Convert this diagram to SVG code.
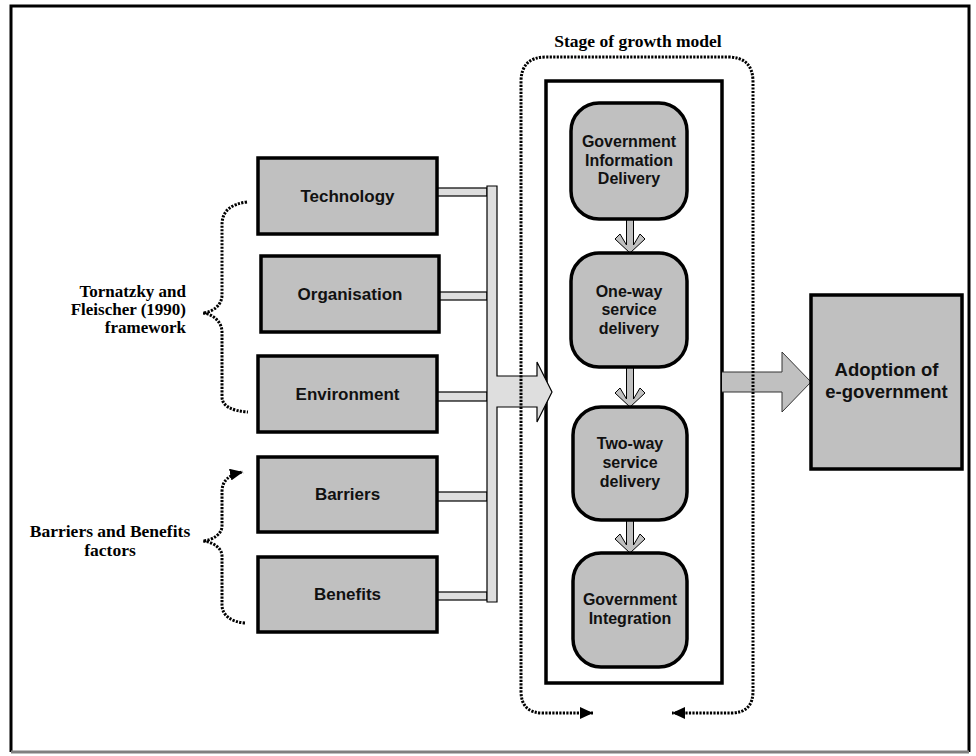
<svg xmlns="http://www.w3.org/2000/svg" width="976" height="756" viewBox="0 0 976 756">
<defs>
<style>
.box{fill:#c0c0c0;stroke:#000;stroke-width:3.5}
.sbox{fill:#c0c0c0;stroke:#000;stroke-width:3.5}
.lbl{font-family:"Liberation Sans",Arial,sans-serif;font-weight:bold;font-size:17px;fill:#111;text-anchor:middle}
.slbl{font-family:"Liberation Sans",Arial,sans-serif;font-weight:bold;font-size:16px;fill:#111;text-anchor:middle}
.ser{font-family:"Liberation Serif","Times New Roman",serif;font-weight:bold;font-size:17px;fill:#000}
.dot{fill:none;stroke:#000;stroke-width:3;stroke-dasharray:2.2 1.3}
.bar{fill:#dedede;stroke:#000;stroke-width:1.2}
.sarr{fill:#c0c0c0;stroke:#000;stroke-width:1}
</style>
<marker id="ah" markerUnits="userSpaceOnUse" markerWidth="13" markerHeight="12" refX="13" refY="6" orient="auto-start-reverse" viewBox="0 0 13 12">
<path d="M0,0 L13,6 L0,12 Z" fill="#000"/>
</marker>
</defs>

<g id="frame">
<path d="M11,752 L11,6 L969,6 L969,752" fill="none" stroke="#000" stroke-width="3"/>
<line x1="11" y1="752" x2="969" y2="752" stroke="#808080" stroke-width="3"/>
</g>

<g id="stage-container">
<rect x="546" y="81" width="176" height="602" fill="none" stroke="#000" stroke-width="3.5"/>
</g>

<g id="connectors">
<rect class="bar" x="437" y="188" width="50" height="8"/>
<rect class="bar" x="436" y="292" width="51" height="8"/>
<rect class="bar" x="437" y="392" width="50" height="9"/>
<rect class="bar" x="437" y="492" width="50" height="9"/>
<rect class="bar" x="437" y="592" width="50" height="8"/>
<path class="bar" d="M487,186 L497,186 L497,376 L537,376 L537,362 L552,392 L537,422 L537,407 L497,407 L497,602 L487,602 Z"/>
<path class="sarr" d="M626.5,219 L633.5,219 L633.5,245 L640,234 L645,239 L630,253 L615,239 L620,234 L626.5,245 Z"/>
<path class="sarr" d="M626.5,367 L633.5,367 L633.5,399 L640,388 L645,393 L630,407 L615,393 L620,388 L626.5,399 Z"/>
<path class="sarr" d="M626.5,520 L633.5,520 L633.5,545 L640,534 L645,539 L630,553 L615,539 L620,534 L626.5,545 Z"/>
<path d="M722,372 L782,372 L782,352 L811,382 L782,412 L782,392 L722,392" fill="#c0c0c0" stroke="#333" stroke-width="1"/>
<path class="dot" d="M247,202 C232,204 222,210 222,225 L222,295 C222,305 213,312 203,313 C213,314 222,322 222,332 L222,397 C222,406 232,411 248,412"/>
<path class="dot" d="M245,623 C231,622 222,615 222,605 L222,556 C222,548 213,542 203,541 C213,540 222,534 222,526 L222,492 C222,481 228,475 243,472" marker-end="url(#ah)"/>
<path class="dot" d="M593,713 L543,713 Q521,713 521,691 L521,82 Q521,57 546,57 L728,57 Q753,57 753,82 L753,691 Q753,713 731,713 L672,713" marker-start="url(#ah)" marker-end="url(#ah)"/>
</g>

<g id="technology"><rect class="box" x="258" y="158" width="179" height="76"/><text class="lbl" x="347.5" y="202">Technology</text></g>
<g id="organisation"><rect class="box" x="261" y="256" width="178" height="76"/><text class="lbl" x="350" y="300">Organisation</text></g>
<g id="environment"><rect class="box" x="258" y="356" width="179" height="76"/><text class="lbl" x="347.5" y="400">Environment</text></g>
<g id="barriers"><rect class="box" x="258" y="457" width="179" height="75"/><text class="lbl" x="347.5" y="500">Barriers</text></g>
<g id="benefits"><rect class="box" x="258" y="557" width="179" height="75"/><text class="lbl" x="347.5" y="600">Benefits</text></g>

<g id="stage1"><rect class="sbox" x="571" y="103" width="116" height="116" rx="28"/>
<text class="slbl" x="629" y="147">Government</text><text class="slbl" x="629" y="166">Information</text><text class="slbl" x="629" y="184">Delivery</text></g>
<g id="stage2"><rect class="sbox" x="571" y="253" width="116" height="114" rx="28"/>
<text class="slbl" x="629" y="297">One-way</text><text class="slbl" x="629" y="315">service</text><text class="slbl" x="629" y="334">delivery</text></g>
<g id="stage3"><rect class="sbox" x="573" y="407" width="114" height="113" rx="28"/>
<text class="slbl" x="630" y="449">Two-way</text><text class="slbl" x="630" y="468">service</text><text class="slbl" x="630" y="487">delivery</text></g>
<g id="stage4"><rect class="sbox" x="573" y="553" width="114" height="114" rx="28"/>
<text class="slbl" x="630" y="605">Government</text><text class="slbl" x="630" y="624">Integration</text></g>

<g id="adoption"><rect class="box" x="811" y="295" width="151" height="174"/>
<text class="lbl" x="886.5" y="376" style="font-size:18.5px">Adoption of</text><text class="lbl" x="886.5" y="398" style="font-size:18.5px">e-government</text></g>

<g id="labels">
<text class="ser" x="638" y="47" text-anchor="middle" style="font-size:17.5px">Stage of growth model</text>
<text class="ser" x="186" y="297" text-anchor="end">Tornatzky and</text>
<text class="ser" x="186" y="315" text-anchor="end">Fleischer (1990)</text>
<text class="ser" x="186" y="333" text-anchor="end">framework</text>
<text class="ser" x="110" y="537" text-anchor="middle" style="font-size:17.5px">Barriers and Benefits</text>
<text class="ser" x="110" y="556" text-anchor="middle" style="font-size:17.5px">factors</text>
</g>
</svg>
